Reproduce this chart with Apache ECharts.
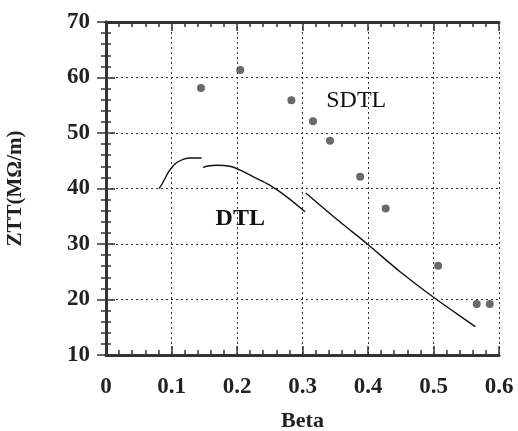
<!DOCTYPE html>
<html>
<head>
<meta charset="utf-8">
<script src="https://cdn.jsdelivr.net/npm/echarts@6/dist/echarts.min.js"></script>
<style>
html,body{margin:0;padding:0;background:#fff;}
#c{width:518px;height:431px;}
</style>
</head>
<body>
<div id="c"></div>
<script>
// SDTL measured points
const sdtlBeta = [0.145, 0.205, 0.283, 0.316, 0.342, 0.388, 0.427, 0.507, 0.566, 0.586];
const sdtlZtt  = [58.1, 61.35, 55.9, 52.1, 48.6, 42.1, 36.4, 26.1, 19.2, 19.2];

// DTL curve, segment 1
const dtl1Beta = [0.081, 0.086, 0.090, 0.095, 0.100, 0.106, 0.113, 0.120, 0.128, 0.146];
const dtl1Ztt  = [40.0, 40.9, 41.8, 42.9, 43.7, 44.5, 45.0, 45.35, 45.5, 45.5];
// DTL curve, segment 2
const dtl2Beta = [0.148, 0.158, 0.169, 0.189, 0.205, 0.225, 0.250, 0.276, 0.304];
const dtl2Ztt  = [43.8, 44.1, 44.2, 44.0, 43.3, 42.1, 40.6, 38.5, 35.8];
// DTL curve, segment 3
const dtl3Beta = [0.305, 0.357, 0.398, 0.449, 0.500, 0.564];
const dtl3Ztt  = [39.2, 34.0, 30.1, 25.0, 20.4, 15.1];

// Tick labels
const xTicks = ['0', '0.1', '0.2', '0.3', '0.4', '0.5', '0.6'];
const yTicks = ['10', '20', '30', '40', '50', '60', '70'];

// Text annotations
const annotations = [
  {name: 'SDTL', beta: 0.382, ztt: 55.9, bold: false},
  {name: 'DTL', beta: 0.205, ztt: 34.6, bold: true}
];

const pairs = (xs, ys) => xs.map((x, i) => [x, ys[i]]);
const serif = '"Liberation Serif", "DejaVu Serif", serif';
const frameColor = '#333';

const xBase = {
  type: 'value', min: 0, max: 0.6, interval: 0.1,
  axisLine: {show: true, lineStyle: {color: frameColor, width: 3}},
  axisTick: {show: true, inside: true, length: 9, lineStyle: {color: frameColor, width: 1.5}},
  minorTick: {show: true, splitNumber: 5, length: 5, lineStyle: {color: frameColor, width: 1.5}},
};
const yBase = {
  type: 'value', min: 10, max: 70, interval: 10,
  axisLine: {show: true, lineStyle: {color: frameColor, width: 3}},
  axisTick: {show: true, inside: true, length: 9, lineStyle: {color: frameColor, width: 1.5}},
  minorTick: {show: true, splitNumber: 5, length: 5, lineStyle: {color: frameColor, width: 1.5}},
};

const chart = echarts.init(document.getElementById('c'), null, {renderer: 'canvas'});
chart.setOption({
  backgroundColor: '#fff',
  animation: false,
  grid: {left: 106, right: 19, top: 22, bottom: 76, containLabel: false, outerBoundsMode: 'none'},
  xAxis: [
    Object.assign({}, xBase, {
      position: 'bottom',
      name: 'Beta', nameLocation: 'middle', nameGap: 55,
      nameTextStyle: {fontFamily: serif, fontWeight: 'bold', fontSize: 22, color: '#222'},
      axisLabel: {
        margin: 21, fontFamily: serif, fontWeight: 'bold', fontSize: 23, color: '#222',
        formatter: v => xTicks[Math.round(v * 10)]
      },
      splitLine: {show: true, lineStyle: {type: [2, 3], color: '#333', width: 1}}
    }),
    Object.assign({}, xBase, {
      position: 'top', axisLabel: {show: false}, splitLine: {show: false}
    })
  ],
  yAxis: [
    Object.assign({}, yBase, {
      position: 'left',
      name: 'ZTT(MΩ/m)', nameLocation: 'middle', nameGap: 80, nameRotate: 90,
      nameTextStyle: {fontFamily: serif, fontWeight: 'bold', fontSize: 21, color: '#222'},
      axisLabel: {
        margin: 16, fontFamily: serif, fontWeight: 'bold', fontSize: 23, color: '#222',
        formatter: v => yTicks[Math.round((v - 10) / 10)]
      },
      splitLine: {show: true, lineStyle: {type: [2, 3], color: '#333', width: 1}}
    }),
    Object.assign({}, yBase, {
      position: 'right', axisLabel: {show: false}, splitLine: {show: false}
    })
  ],
  series: [
    {
      type: 'scatter', data: pairs(sdtlBeta, sdtlZtt), symbol: 'circle', symbolSize: 8,
      itemStyle: {color: '#444'}, z: 5
    },
    {
      type: 'line', data: pairs(dtl1Beta, dtl1Ztt), smooth: 0.2, showSymbol: false,
      lineStyle: {color: '#111', width: 1.4}
    },
    {
      type: 'line', data: pairs(dtl2Beta, dtl2Ztt), smooth: 0.3, showSymbol: false,
      lineStyle: {color: '#111', width: 1.4}
    },
    {
      type: 'line', data: pairs(dtl3Beta, dtl3Ztt), smooth: 0.3, showSymbol: false,
      lineStyle: {color: '#111', width: 1.4}
    },
    {
      type: 'scatter', symbolSize: 1, silent: true, z: 6,
      itemStyle: {color: 'rgba(0,0,0,0)'},
      data: annotations.map(a => ({value: [a.beta, a.ztt], name: a.name,
        label: {fontWeight: a.bold ? 'bold' : 'normal'}})),
      label: {
        show: true, position: 'inside', formatter: p => p.name,
        fontFamily: serif, fontSize: 24, color: '#111', textBorderWidth: 0, opacity: 1
      }
    }
  ]
});
</script>
</body>
</html>
